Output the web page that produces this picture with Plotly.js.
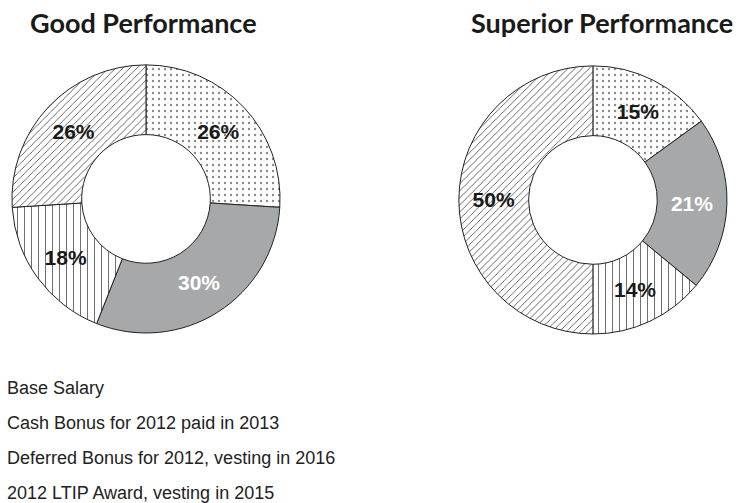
<!DOCTYPE html>
<html>
<head>
<meta charset="utf-8">
<script src="https://cdn.plot.ly/plotly-3.0.1.min.js"></script>
<style>
  html, body { margin: 0; padding: 0; background: #fff; }
  #chart { width: 743px; height: 503px; }
</style>
</head>
<body>
<div id="chart"></div>
<script>
var categories = [
  'Base Salary',
  'Cash Bonus for 2012 paid in 2013',
  'Deferred Bonus for 2012, vesting in 2016',
  '2012 LTIP Award, vesting in 2015'
];
var goodValues = [26, 30, 18, 26];
var superiorValues = [15, 21, 14, 50];
var chartTitles = ['Good Performance', 'Superior Performance'];

var patternMarker = {
  colors: ['#ffffff', '#a7a8aa', '#ffffff', '#ffffff'],
  line: { color: '#222', width: 1 },
  pattern: {
    shape: ['.', '', '|', '/'],
    fgcolor: ['#8a8a8a', '#a7a8aa', '#555', '#444'],
    bgcolor: ['#ffffff', '#a7a8aa', '#ffffff', '#ffffff'],
    size: [6, 6, 7, 5],
    solidity: [0.12, 0.3, 0.12, 0.16],
    fillmode: 'replace'
  }
};

function donut(values, domain) {
  return {
    type: 'pie',
    labels: categories,
    values: values,
    hole: 0.48,
    sort: false,
    direction: 'clockwise',
    rotation: 0,
    domain: domain,
    marker: patternMarker,
    texttemplate: '%{value}%',
    textposition: 'inside',
    insidetextorientation: 'horizontal',
    textfont: {
      family: 'Liberation Sans, Arial, sans-serif',
      size: 21,
      color: ['#1a1a1a', '#ffffff', '#1a1a1a', '#1a1a1a'],
      weight: 'bold'
    },
    hoverinfo: 'label+value',
    showlegend: false
  };
}

var data = [
  donut(goodValues, { x: [0.016, 0.377], y: [0.338, 0.871] }),
  donut(superiorValues, { x: [0.616, 0.980], y: [0.336, 0.869] })
];

var annotations = [
  { text: chartTitles[0], x: 143 / 743, y: 1 - 22 / 503 },
  { text: chartTitles[1], x: 602 / 743, y: 1 - 22 / 503 }
].map(function (a) {
  return {
    text: '<b>' + a.text + '</b>', xref: 'paper', yref: 'paper',
    x: a.x, y: a.y, xanchor: 'center', yanchor: 'middle', showarrow: false,
    font: { family: 'Lato, Open Sans, sans-serif', size: 27, color: '#1a1a1a', weight: 900 }
  };
});

var legendY = [388, 423, 458, 493];
categories.forEach(function (c, i) {
  annotations.push({
    text: c, xref: 'paper', yref: 'paper',
    x: 5 / 743, y: 1 - legendY[i] / 503, xanchor: 'left', yanchor: 'middle',
    showarrow: false,
    font: { family: 'Liberation Sans, Arial, sans-serif', size: 18, color: '#222' }
  });
});

var layout = {
  width: 743,
  height: 503,
  margin: { l: 0, r: 0, t: 0, b: 0 },
  paper_bgcolor: '#ffffff',
  showlegend: false,
  annotations: annotations
};

Plotly.newPlot('chart', data, layout, { displayModeBar: false, staticPlot: true });
</script>
</body>
</html>
